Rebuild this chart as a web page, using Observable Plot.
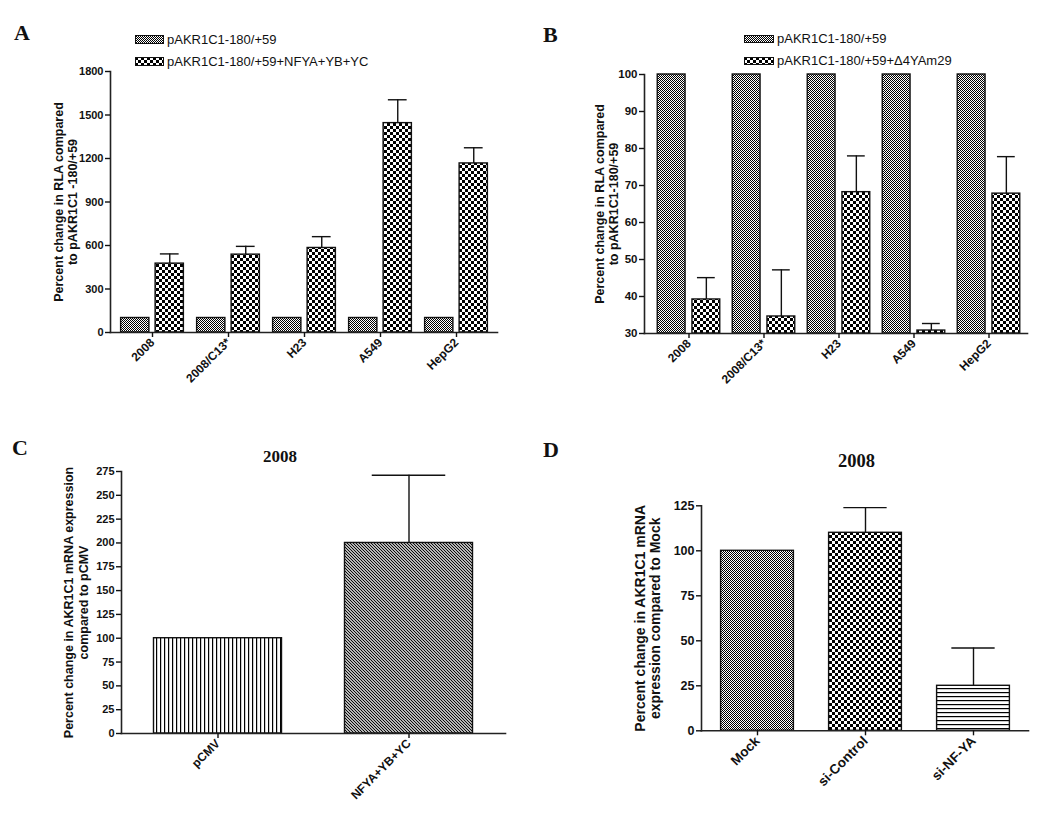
<!DOCTYPE html>
<html>
<head>
<meta charset="utf-8">
<script src="https://cdn.jsdelivr.net/npm/d3@7"></script>
<script src="https://cdn.jsdelivr.net/npm/@observablehq/plot@0.6"></script>
<style>
  body { margin: 0; background: #fff; }
  #fig { position: relative; width: 1050px; height: 821px; overflow: hidden; background: #fff;
         font-family: "Liberation Sans", Arial, sans-serif; color: #111; }
  .abs { position: absolute; }
  .letter { font-family: "Liberation Serif", "Times New Roman", serif; font-weight: bold; font-size: 22px; line-height: 22px; }
  .title { font-family: "Liberation Serif", "Times New Roman", serif; font-weight: bold; line-height: 1; transform: translateX(-50%); white-space: nowrap; }
  .leg { display: flex; align-items: center; height: 16px; font-size: 13px; white-space: nowrap; }
  .leg svg { display: block; margin-right: 3px; }
  #fig svg text { font-family: "Liberation Sans", Arial, sans-serif; font-weight: bold; }
  #fig svg g[aria-label="ylabel"] text { text-anchor: middle; font-weight: bold; }
  #pA g[aria-label="ylabel"] text, #pB g[aria-label="ylabel"] text, #pC g[aria-label="ylabel"] text { font-size: 12.5px; }
  #pD g[aria-label="ylabel"] text { font-size: 14px; }
</style>
</head>
<body>
<div id="fig">
  <svg width="0" height="0" style="position:absolute">
    <defs>
      <pattern id="fine" patternUnits="userSpaceOnUse" width="2" height="2">
        <rect width="2" height="2" fill="#fff"/>
        <rect x="0" y="0" width="1" height="1" fill="#000"/>
        <rect x="1" y="1" width="1" height="1" fill="#000"/>
      </pattern>
      <pattern id="coarse" patternUnits="userSpaceOnUse" width="6" height="6">
        <rect width="6" height="6" fill="#fff"/>
        <rect x="0" y="0" width="3" height="3" fill="#000"/>
        <rect x="3" y="3" width="3" height="3" fill="#000"/>
      </pattern>
      <pattern id="vlines" patternUnits="userSpaceOnUse" width="4" height="4">
        <rect width="4" height="4" fill="#fff"/>
        <rect x="0" y="0" width="1.2" height="4" fill="#000"/>
      </pattern>
      <pattern id="hlines" patternUnits="userSpaceOnUse" width="4" height="4">
        <rect width="4" height="4" fill="#fff"/>
        <rect x="0" y="0" width="4" height="1.2" fill="#000"/>
      </pattern>
      <pattern id="diag" patternUnits="userSpaceOnUse" width="3" height="3">
        <rect width="3" height="3" fill="#fff"/>
        <path d="M-1,-1 L4,4 M-1,2 L1,4 M2,-1 L4,1" stroke="#000" stroke-width="1.1"/>
      </pattern>
    </defs>
  </svg>
</div>
<script>
// ---------------- data ----------------
const cellLines = ["2008", "2008/C13*", "H23", "A549", "HepG2"];

// Panel A
const aSeries = ["pAKR1C1-180/+59", "pAKR1C1-180/+59+NFYA+YB+YC"];
const aControl = [100, 100, 100, 100, 100];
const aNfy = [475, 537, 583, 1444, 1166];
const aNfySem = [67, 57, 78, 161, 108];
const aTicks = [0, 300, 600, 900, 1200, 1500, 1800];
const aYLabel = "Percent change in RLA compared\nto pAKR1C1 -180/+59";

// Panel B
const bSeries = ["pAKR1C1-180/+59", "pAKR1C1-180/+59+\u03944YAm29"];
const bControl = [100, 100, 100, 100, 100];
const bMut = [39.2, 34.6, 68.2, 30.8, 67.8];
const bMutSem = [5.9, 12.6, 9.8, 1.9, 10.0];
const bTicks = [30, 40, 50, 60, 70, 80, 90, 100];
const bYLabel = "Percent change in RLA compared\nto pAKR1C1-180/+59";

// Panel C
const cGroups = ["pCMV", "NFYA+YB+YC"];
const cValues = [100, 200];
const cSem = [0, 71];
const cTicks = [0, 25, 50, 75, 100, 125, 150, 175, 200, 225, 250, 275];
const cYLabel = "Percent change in AKR1C1 mRNA expression\ncompared to pCMV";
const cTitle = "2008";

// Panel D
const dGroups = ["Mock", "si-Control", "si-NF-YA"];
const dValues = [100, 110, 25];
const dSem = [0, 14, 21];
const dTicks = [0, 25, 50, 75, 100, 125];
const dYLabel = "Percent change in AKR1C1 mRNA\nexpression compared to Mock";
const dTitle = "2008";

// ---------------- helpers ----------------
const fig = document.getElementById("fig");
const INK = "#111";

function place(el, id, left, top) {
  el.id = id;
  el.style.position = "absolute";
  el.style.left = left + "px";
  el.style.top = top + "px";
  fig.appendChild(el);
}

function addDiv(cls, text, left, top, extra = {}) {
  const d = document.createElement("div");
  d.className = "abs " + cls;
  d.textContent = text;
  d.style.left = left + "px";
  d.style.top = top + "px";
  Object.assign(d.style, extra);
  fig.appendChild(d);
}

function addLegend(rows, left, top, gap, swW, swH) {
  rows.forEach(([fill, label], i) => {
    const row = document.createElement("div");
    row.className = "abs leg";
    row.style.left = left + "px";
    row.style.top = (top + i * gap) + "px";
    const sw = document.createElementNS("http://www.w3.org/2000/svg", "svg");
    sw.setAttribute("width", swW);
    sw.setAttribute("height", swH);
    const r = document.createElementNS("http://www.w3.org/2000/svg", "rect");
    r.setAttribute("x", 0.5); r.setAttribute("y", 0.5);
    r.setAttribute("width", swW - 1); r.setAttribute("height", swH - 1);
    r.setAttribute("fill", fill); r.setAttribute("stroke", INK); r.setAttribute("stroke-width", 1);
    sw.appendChild(r);
    row.appendChild(sw);
    const t = document.createElement("span");
    t.textContent = label;
    row.appendChild(t);
    fig.appendChild(row);
  });
}

function axesMarks(o) {
  return [
    Plot.frame({anchor: "left", stroke: "#222", strokeWidth: 1.6}),
    Plot.frame({anchor: "bottom", stroke: "#222", strokeWidth: 1.6}),
    Plot.axisY({ticks: o.ticks, tickFormat: "d", tickSize: 5, tickPadding: 2, label: null,
                fontSize: o.yTickFont, strokeWidth: 1.4}),
    Plot.axisX({tickRotate: -45, tickSize: 5, tickPadding: 3, label: null,
                fontSize: o.xTickFont, strokeWidth: 1.4}),
    Plot.text([o.ylabel], {text: d => d, frameAnchor: "left", rotate: -90, dx: o.labelDx,
                textAnchor: "middle", lineAnchor: "middle", ariaLabel: "ylabel",
                fontSize: o.yLabelFont, fontWeight: "bold", lineHeight: o.lineHeight, fill: INK})
  ];
}

// grouped chart (two bars per category)
function grouped(o) {
  const data = o.cats.map((c, i) => ({cat: c, base: o.base[i], val: o.treat[i], top: o.treat[i] + o.sem[i]}));
  const step = (o.w - o.ml - o.mr - o.insL - o.insR) / o.cats.length;
  const off = (o.barW + o.gap) / 2;
  const cw = o.capHalf;
  const y0 = o.ymin;
  return Plot.plot({
    width: o.w, height: o.h,
    marginLeft: o.ml, marginRight: o.mr, marginTop: o.mt, marginBottom: o.mb,
    style: {fontFamily: "'Liberation Sans', Arial, sans-serif", fontWeight: "bold", color: INK, background: "transparent", overflow: "visible"},
    x: {domain: o.cats, paddingInner: 0, paddingOuter: 0, insetLeft: o.insL, insetRight: o.insR},
    y: {domain: [o.ymin, o.ymax]},
    marks: [
      Plot.barY(data, {x: "cat", y1: () => y0, y2: "base", fill: "url(#fine)", stroke: INK, strokeWidth: 1.4,
        insetLeft: step / 2 - off - o.barW / 2, insetRight: step / 2 + off - o.barW / 2}),
      Plot.barY(data, {x: "cat", y1: () => y0, y2: "val", fill: "url(#coarse)", stroke: INK, strokeWidth: 1.4,
        insetLeft: step / 2 + off - o.barW / 2, insetRight: step / 2 - off - o.barW / 2}),
      Plot.ruleX(data, {x: "cat", y1: "val", y2: "top", dx: off, stroke: INK, strokeWidth: 1.4}),
      Plot.tickY(data, {x: "cat", y: "top", stroke: INK, strokeWidth: 1.4,
        insetLeft: step / 2 + off - cw, insetRight: step / 2 - off - cw}),
      ...axesMarks(o)
    ]
  });
}

// single bar chart
function single(o) {
  const data = o.cats.map((c, i) => ({cat: c, val: o.values[i], top: o.values[i] + o.sem[i], fill: o.fills[i], sem: o.sem[i]}));
  const step = (o.w - o.ml - o.mr - o.insL - o.insR) / o.cats.length;
  const inset = (step - o.barW) / 2;
  const eb = data.filter(d => d.sem > 0);
  return Plot.plot({
    width: o.w, height: o.h,
    marginLeft: o.ml, marginRight: o.mr, marginTop: o.mt, marginBottom: o.mb,
    style: {fontFamily: "'Liberation Sans', Arial, sans-serif", fontWeight: "bold", color: INK, background: "transparent", overflow: "visible"},
    x: {domain: o.cats, paddingInner: 0, paddingOuter: 0, insetLeft: o.insL, insetRight: o.insR},
    y: {domain: [0, o.ymax]},
    color: {type: "identity"},
    marks: [
      Plot.barY(data, {x: "cat", y1: () => 0, y2: "val", fill: "fill", stroke: INK, strokeWidth: 1.4,
        insetLeft: inset, insetRight: inset}),
      Plot.ruleX(eb, {x: "cat", y1: "val", y2: "top", stroke: INK, strokeWidth: 1.4}),
      Plot.tickY(eb, {x: "cat", y: "top", stroke: INK, strokeWidth: 1.4,
        insetLeft: step / 2 - o.capHalf, insetRight: step / 2 - o.capHalf}),
      ...axesMarks(o)
    ]
  });
}

// ---------------- panel A ----------------
place(grouped({
  cats: cellLines, base: aControl, treat: aNfy, sem: aNfySem, ymin: 0, ymax: 1800, ticks: aTicks,
  ylabel: aYLabel, w: 520, h: 400, ml: 110, mr: 23, mt: 71, mb: 68, insL: 3.4, insR: 2.4,
  barW: 28.5, gap: 6, capHalf: 9.5, labelDx: -45, yTickFont: 11, xTickFont: 12, yLabelFont: 12.5, lineHeight: 1.12
}), "pA", 0, 0);

// ---------------- panel B ----------------
place(grouped({
  cats: cellLines, base: bControl, treat: bMut, sem: bMutSem, ymin: 30, ymax: 100, ticks: bTicks,
  ylabel: bYLabel, w: 530, h: 400, ml: 124, mr: 23, mt: 74, mb: 67, insL: 6.5, insR: 0.5,
  barW: 28, gap: 6.7, capHalf: 9, labelDx: -38, yTickFont: 11.5, xTickFont: 12, yLabelFont: 12.5, lineHeight: 1.14
}), "pB", 520, 0);

// ---------------- panel C ----------------
place(single({
  cats: cGroups, values: cValues, sem: cSem, fills: ["url(#vlines)", "url(#diag)"], ymax: 275, ticks: cTicks,
  ylabel: cYLabel, w: 520, h: 421, ml: 121, mr: 15, mt: 71, mb: 88, insL: 0.75, insR: 0.25,
  barW: 128.5, capHalf: 37, labelDx: -46, yTickFont: 11, xTickFont: 12, yLabelFont: 12.5, lineHeight: 1.2
}), "pC", 0, 400);

// ---------------- panel D ----------------
place(single({
  cats: dGroups, values: dValues, sem: dSem, fills: ["url(#fine)", "url(#coarse)", "url(#hlines)"], ymax: 125, ticks: dTicks,
  ylabel: dYLabel, w: 530, h: 421, ml: 181, mr: 22, mt: 105.3, mb: 90.7, insL: 0.65, insR: 0.25,
  barW: 73.5, capHalf: 22, labelDx: -53.5, yTickFont: 12.5, xTickFont: 13.5, yLabelFont: 14, lineHeight: 1.08
}), "pD", 520, 400);

// ---------------- text: panel letters, titles, legends ----------------
addDiv("letter", "A", 14, 21.5);
addDiv("letter", "B", 543, 23.5);
addDiv("letter", "C", 12, 436.5);
addDiv("letter", "D", 543, 438.5);

addDiv("title", cTitle, 280, 447.8, {fontSize: "17px"});
addDiv("title", dTitle, 856.5, 451.5, {fontSize: "18.5px"});

addLegend([["url(#fine)", aSeries[0]], ["url(#coarse)", aSeries[1]]], 135, 31, 22, 29, 9);
addLegend([["url(#fine)", bSeries[0]], ["url(#coarse)", bSeries[1]]], 744, 30.5, 22, 30, 8);
</script>
</body>
</html>
